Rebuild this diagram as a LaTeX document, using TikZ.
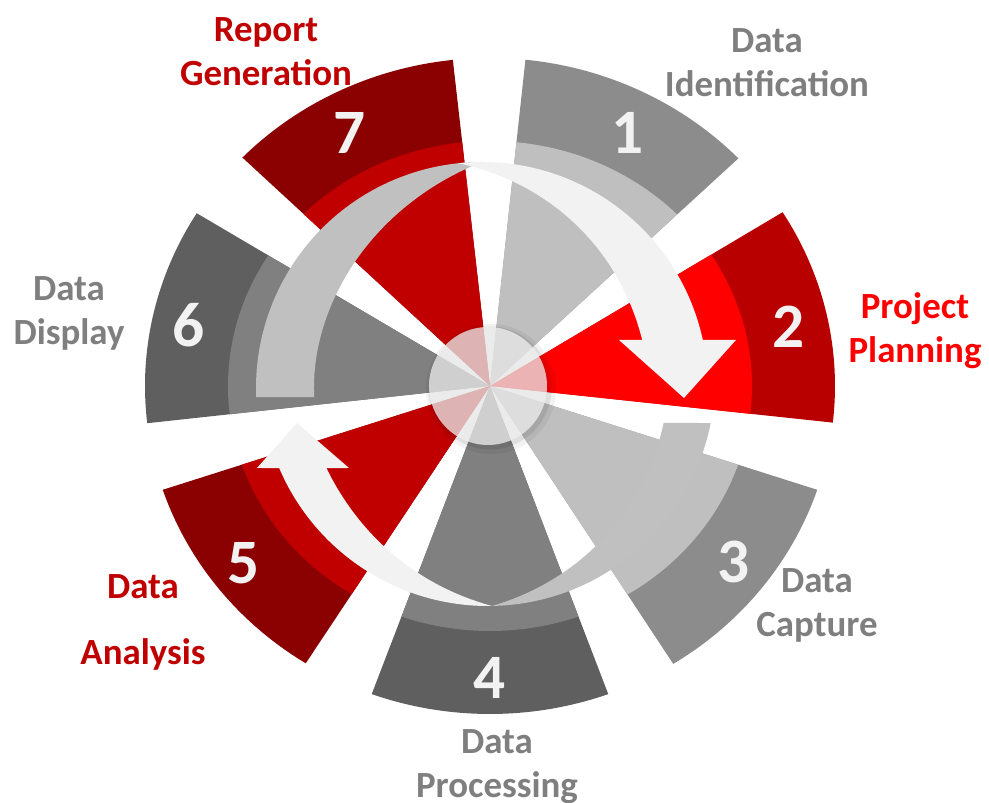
\documentclass[tikz,border=0pt]{standalone}
\usepackage{fontspec}
\setmainfont{Carlito}
\usetikzlibrary{calc}
\definecolor{silver}{HTML}{BFBFBF}
\definecolor{silverD}{HTML}{8C8C8C}
\definecolor{slate}{HTML}{808080}
\definecolor{slateD}{HTML}{5F5F5F}
\definecolor{scarlet}{HTML}{FF0000}
\definecolor{scarletD}{HTML}{B80000}
\definecolor{crimson}{HTML}{C00000}
\definecolor{crimsonD}{HTML}{8B0000}
\definecolor{arrowgray}{HTML}{C0C0C0}
\definecolor{arrowlight}{HTML}{F2F2F2}
\definecolor{txtgray}{HTML}{7F7F7F}

\begin{document}
\begin{tikzpicture}[declare function={
    rout(\t)=3.45*3.28/sqrt((3.28*cos(\t))^2+(3.45*sin(\t))^2);
    rin(\t)=2.62*2.45/sqrt((2.45*cos(\t))^2+(2.62*sin(\t))^2);}]
\tikzstyle{num}=[font=\fontsize{18}{18}\selectfont\bfseries,text=arrowlight,inner sep=0pt]
\tikzstyle{lbl}=[font=\fontsize{10.5}{12.5}\selectfont\bfseries,align=center,anchor=north,inner sep=0pt]
\useasboundingbox (-4.90,-4.17) rectangle (4.99,3.86);
% sectors: start/end angle, inner colour, outer colour
\foreach \a/\b/\ci/\co in {42.5/83.8/silver/silverD, 96.5/137.3/crimson/crimsonD,
    149.5/186.2/slate/slateD, 197.6/236.4/crimson/crimsonD, 249/291/slate/slateD,
    303.4/342.4/silver/silverD, 353.9/390.7/scarlet/scarletD}{
  \fill[\co] (0,0) -- plot[domain=\a:\b,samples=40] (\x:{rout(\x)}) -- cycle;
  \fill[\ci] (0,0) -- plot[domain=\a:\b,samples=40] (\x:{rin(\x)}) -- cycle;
}
% upper arrow
\fill[arrowgray] (-0.08,-0.02) ++(182.3:2.26) arc[start angle=182.3,end angle=90,radius=2.26]
  -- plot[domain=90:183.1,samples=60] ({-0.08+(2.26-0.58*(1-((183.3-\x)/93.3)^2.5))*cos(\x)},
     {-0.02+(2.26-0.58*(1-((183.3-\x)/93.3)^2.5))*sin(\x)}) -- cycle;
\fill[arrowlight] (-0.08,-0.02) ++(96:2.26) arc[start angle=96,end angle=12.3,radius=2.26]
  -- (2.46,0.46) -- (1.94,-0.12) -- (1.29,0.46)
  -- plot[domain=16.7:96,samples=60] ({-0.08+(2.26-0.59*(1-((\x-12.3)/83.7)^1.8))*cos(\x)},
     {-0.02+(2.26-0.59*(1-((\x-12.3)/83.7)^1.8))*sin(\x)}) -- cycle;
% lower arrow
\fill[arrowgray] (-0.02,0.07) ++(348.8:2.27) arc[start angle=348.8,end angle=271,radius=2.27]
  -- plot[domain=271:346,samples=60] ({-0.02+(2.27-0.46*(1-((348.8-\x)/77.8)^1.8))*cos(\x)},
     {0.07+(2.27-0.46*(1-((348.8-\x)/77.8)^1.8))*sin(\x)}) -- cycle;
\fill[arrowlight] (-0.02,0.07) ++(271:2.27) arc[start angle=271,end angle=203.1,radius=2.27]
  -- (-2.33,-0.82) -- (-1.93,-0.37) -- (-1.41,-0.82)
  -- plot[domain=208.9:271,samples=60] ({-0.02+(2.27-0.43*(1-((\x-203.1)/67.9)^1.8))*cos(\x)},
     {0.07+(2.27-0.43*(1-((\x-203.1)/67.9)^1.8))*sin(\x)}) -- cycle;
% hub
\fill[black,opacity=.05] (0.01,-0.03) circle (0.65);
\fill[black,opacity=.08] (0.0,-0.02) circle (0.615);
\fill[gray!12,opacity=.75] (-0.02,0) circle (0.59);
% numbers
\node[num] (N_1) at (1.38,2.53) {1};
\node[num] (N_2) at (2.99,0.59) {2};
\node[num] (N_3) at (2.44,-1.76) {3};
\node[num] (N_4) at (0.00,-2.92) {4};
\node[num] (N_5) at (-2.46,-1.77) {5};
\node[num] (N_6) at (-3.01,0.61) {6};
\node[num] (N_7) at (-1.40,2.53) {7};
% labels
\node[lbl,text=txtgray] (L_1) at (2.77,3.58) {Data\\Identification};
\node[lbl,text=scarlet] (L_2) at (4.25,0.94) {Project\\Planning};
\node[lbl,text=txtgray] (L_3) at (3.27,-1.82) {Data\\Capture};
\node[lbl,text=txtgray] (L_4) at (0.07,-3.43) {Data\\Processing};
\node[lbl,text=crimson] (L_5) at (-3.47,-1.88) {Data\\[6.3pt]Analysis};
\node[lbl,text=txtgray] (L_6) at (-4.21,1.10) {Data\\Display};
\node[lbl,text=crimson] (L_7) at (-2.24,3.69) {Report\\Generation};
\end{tikzpicture}
\end{document}
